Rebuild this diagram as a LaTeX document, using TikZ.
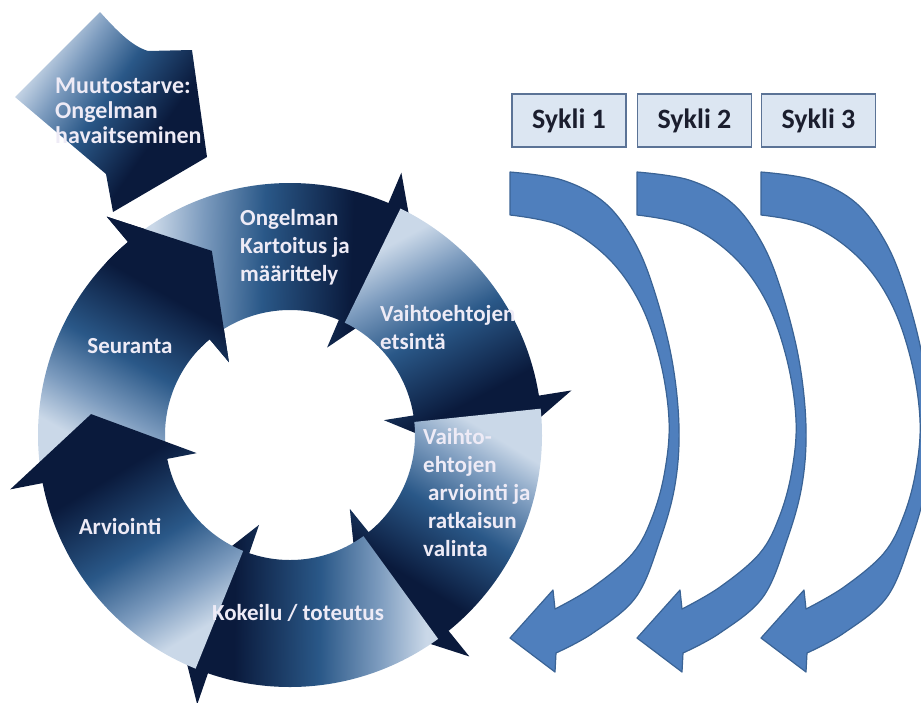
\documentclass[tikz,border=0pt]{standalone}
\usepackage{fontspec}
\setmainfont{Carlito}
\begin{document}
\begin{tikzpicture}[x=1pt,y=1pt]
\definecolor{navy}{HTML}{0A1A3C}
\definecolor{midblue}{HTML}{2A5888}
\definecolor{lightmid}{HTML}{7C9BBE}
\definecolor{paleblue}{HTML}{CAD8E8}
\definecolor{labtext}{HTML}{EEEBF6}
\definecolor{boxfill}{HTML}{DCE6F2}
\definecolor{boxline}{HTML}{5B7396}
\definecolor{boxtext}{HTML}{1B1E2E}
\definecolor{arrowfill}{HTML}{4F7FBD}
\definecolor{arrowline}{HTML}{3A6395}
\pgfdeclareverticalshading{segfade}{100bp}{color(0bp)=(paleblue); color(27bp)=(paleblue); color(36bp)=(lightmid); color(47bp)=(midblue); color(63bp)=(navy); color(100bp)=(navy)}
\tikzset{
  lab/.style={text=labtext, font=\bfseries\fontsize{23}{28}\selectfont, align=left, inner sep=0pt},
  syk/.style={draw=boxline, line width=1.5pt, fill=boxfill, minimum width=114pt, minimum height=53pt, inner sep=0pt, text=boxtext, font=\bfseries\fontsize{28}{32}\selectfont},
  curvarrow/.style={fill=arrowfill, draw=arrowline, line width=1.2pt, line join=round},
  segshade/.style={shading=segfade},
}
\useasboundingbox (0,0) rectangle (921,-702);
% ring segment: tail angle, head base angle, tip angle, shading angle
\newcommand{\ringseg}[4]{%
  \shade[segshade, shading angle=#4] (#1:252) arc[start angle=#1, end angle=#2, radius=252]
    -- (#2:285) -- (#3:200) -- (#2:95) -- (#2:125)
    arc[start angle=#2, end angle=#1, radius=125] -- cycle;}
% Muutostarve arrow
\shade[segshade, shading angle=-125] (100,-12) .. controls (118,-32) and (132,-46) .. (148,-51)
  -- (192,-50) -- (207,-157) -- (113,-212) -- (106,-174) -- (15,-97) -- cycle;
\node[lab, anchor=north west, font=\bfseries\fontsize{24}{25}\selectfont] (muutos) at (55,-78)
  {Muutostarve:\\Ongelman\\havaitseminen};
% cycle ring
\begin{scope}[shift={(290,-435)}]
  \ringseg{188}{130}{113}{-29.5}
  \ringseg{127}{67}{49}{-92}
  \ringseg{64}{9}{-8}{-152}
  \ringseg{6}{-51}{-69}{148.5}
  \ringseg{-54}{-109}{-127}{89.5}
  \ringseg{-112}{-169}{-186}{31}
  \begin{scope}
    \clip (0,0) -- (137:330) arc[start angle=137, end angle=100, radius=330] -- cycle;
    \ringseg{188}{130}{113}{-29.5}
  \end{scope}
\end{scope}
\node[lab, anchor=north west] (kartoitus) at (240,-209) {Ongelman\\Kartoitus ja\\määrittely};
\node[lab, anchor=north west] (etsinta) at (380,-305) {Vaihtoehtojen\\etsintä};
\node[lab, anchor=north west] (valinta) at (423,-428)
  {Vaihto-\\ehtojen\\\hspace*{5pt}arviointi ja\\\hspace*{5pt}ratkaisun\\valinta};
\node[lab, anchor=base] (seuranta) at (130,-353) {Seuranta};
\node[lab, anchor=base] (arviointi) at (120,-534) {Arviointi};
\node[lab, anchor=base] (kokeilu) at (298,-620) {Kokeilu / toteutus};
% Sykli boxes
\node[syk] (s1) at (569,-120.5) {Sykli 1};
\node[syk] (s2) at (694.5,-120.5) {Sykli 2};
\node[syk] (s3) at (818.5,-120.5) {Sykli 3};
% curved arrows
\newcommand{\cyclearc}[1]{%
  \begin{scope}[shift={(#1,0)}]
  \filldraw[curvarrow] plot[smooth, tension=0.6] coordinates {(0,-172) (52,-180) (95,-203) (125,-243) (145,-293) (162,-360) (169,-427) (165,-485) (150,-540) (126,-597) (83,-633) (46,-653)}
    -- (45,-672) -- (0,-638) -- (43,-590)
    -- plot[smooth, tension=0.6] coordinates {(45,-609) (83,-587) (123,-553) (143,-515) (155,-470) (159,-420) (150,-360) (130,-303) (98,-258) (52,-226) (0,-215)}
    -- cycle;
  \end{scope}}
\cyclearc{510}
\cyclearc{637}
\cyclearc{761}
\end{tikzpicture}
\end{document}
